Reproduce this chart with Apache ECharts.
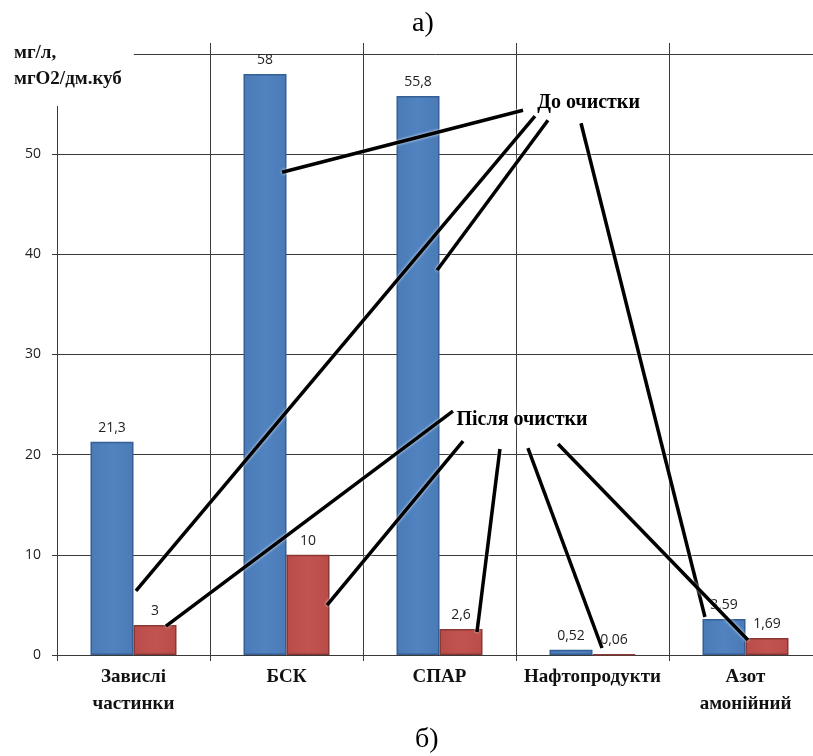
<!DOCTYPE html>
<html><head><meta charset="utf-8">
<script src="https://cdn.jsdelivr.net/npm/echarts@6/dist/echarts.min.js"></script>
<style>html,body{margin:0;padding:0;background:#fff}#c{width:813px;height:756px}</style>
</head><body><div id="c"></div>
<script>
const categories = ['Завислі\nчастинки', 'БСК', 'СПАР', 'Нафтопродукти', 'Азот\nамонійний'];
const beforeValues = [21.3, 58, 55.8, 0.52, 3.59];
const afterValues = [3, 10, 2.6, 0.06, 1.69];
const seriesNames = ['До очистки', 'Після очистки'];
const yTicks = [0, 10, 20, 30, 40, 50, 60];
// callout annotations in data units [category position, value]
const beforeCalloutAnchor = [2.974, 55.09];
const beforeCallouts = [
  [[2.546, 54.39], [0.971, 48.2]],
  [[2.624, 53.79], [0.016, 6.39]],
  [[2.709, 53.39], [1.984, 38.42]],
  [[2.925, 53.09], [3.735, 3.79]]
];
const afterCalloutAnchor = [2.539, 23.45];
const afterCallouts = [
  [[2.088, 24.35], [0.212, 2.89]],
  [[2.154, 21.36], [1.265, 4.99]],
  [[2.395, 20.56], [2.245, 2.30]],
  [[2.578, 20.66], [3.062, 0.70]],
  [[2.775, 21.06], [4.016, 1.50]]
];

const chart = echarts.init(document.getElementById('c'));
const fmt = v => String(v).replace('.', ',');
const gridColor = '#3a3a3a';
const labelStyle = {show: true, position: 'top', distance: 7, fontFamily: 'Open Sans', fontSize: 14, color: '#222',
  formatter: p => fmt(p.value)};
const calloutLabel = {show: true, position: 'inside', formatter: p => p.name,
  fontFamily: 'Liberation Serif', fontWeight: 'bold', fontSize: 20, color: '#000', opacity: 1,
  textBorderWidth: 0,
  textShadowColor: '#fff', textShadowBlur: 12};

chart.setOption({
  animation: false,
  title: [
    {text: 'а)', left: 407, top: 5, textStyle: {fontFamily: 'Liberation Serif', fontWeight: 'normal', fontSize: 28, color: '#000'}},
    {text: 'б)', left: 410, top: 721, textStyle: {fontFamily: 'Liberation Serif', fontWeight: 'normal', fontSize: 28, color: '#000'}}
  ],
  grid: {left: 57, top: 43, width: 765, height: 612, containLabel: false, outerBoundsMode: 'none'},
  xAxis: [{
    type: 'category', data: categories,
    axisLine: {lineStyle: {color: gridColor, width: 1}},
    axisTick: {show: true, length: 6, lineStyle: {color: gridColor}},
    splitLine: {show: true, lineStyle: {color: gridColor, width: 1}},
    axisLabel: {margin: 9, interval: 0, fontFamily: 'Liberation Serif', fontWeight: 'bold', fontSize: 19, color: '#111', lineHeight: 27}
  }, {
    type: 'value', min: -0.5, max: 4.5, show: false
  }],
  yAxis: {
    type: 'value', min: 0, max: 61.1, interval: 10,
    axisLine: {show: true, onZero: false, lineStyle: {color: gridColor}},
    axisTick: {show: true, length: 5, lineStyle: {color: gridColor}},
    axisLabel: {margin: 16, fontFamily: 'Open Sans', fontSize: 14, color: '#222',
      formatter: v => (yTicks.indexOf(v) >= 0 ? String(v) : '')},
    splitLine: {show: true, lineStyle: {color: [gridColor, gridColor, gridColor, gridColor, gridColor, gridColor, gridColor, 'rgba(0,0,0,0)'], width: 1}}
  },
  series: [
    {name: seriesNames[0], type: 'bar', data: beforeValues, barWidth: 43, barGap: '0%',
      itemStyle: {color: {type: 'linear', x: 0, y: 0, x2: 1, y2: 0, colorStops: [
        {offset: 0, color: '#4a7bb7'}, {offset: 0.5, color: '#5183c0'}, {offset: 1, color: '#4a7bb7'}]},
        borderColor: '#355f94', borderWidth: 1.5},
      label: labelStyle},
    {name: seriesNames[1], type: 'bar', data: afterValues, barWidth: 43,
      itemStyle: {color: {type: 'linear', x: 0, y: 0, x2: 1, y2: 0, colorStops: [
        {offset: 0, color: '#b94c49'}, {offset: 0.5, color: '#c25350'}, {offset: 1, color: '#b94c49'}]},
        borderColor: '#8a3835', borderWidth: 1.5},
      label: labelStyle},
    {type: 'lines', coordinateSystem: 'cartesian2d', xAxisIndex: 1, yAxisIndex: 0, z: 10,
      lineStyle: {color: '#000', width: 3.5, opacity: 1, curveness: 0, shadowColor: 'rgba(255,255,255,0.9)', shadowBlur: 3},
      data: beforeCallouts.concat(afterCallouts).map(c => ({coords: c}))},
    {type: 'scatter', xAxisIndex: 1, yAxisIndex: 0, symbolSize: 0, z: 20,
      itemStyle: {opacity: 1},
      label: calloutLabel,
      data: [
        {name: seriesNames[0], value: beforeCalloutAnchor},
        {name: seriesNames[1], value: afterCalloutAnchor}
      ]}
  ],
  graphic: [{
    type: 'text', left: 8, top: 34, z: 100,
    style: {text: 'мг/л,\nмгО2/дм.куб', font: 'bold 19px "Liberation Serif"', fill: '#111',
      lineHeight: 26, backgroundColor: '#fff', padding: [6, 12, 14, 6]}
  }]
});
</script></body></html>
